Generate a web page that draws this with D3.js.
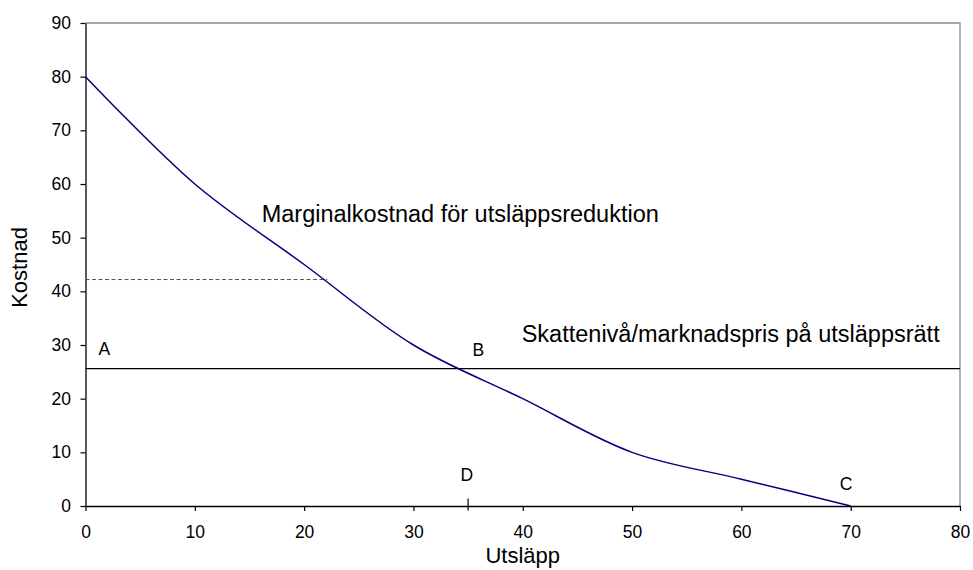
<!DOCTYPE html>
<html>
<head>
<meta charset="utf-8">
<script src="https://cdn.jsdelivr.net/npm/d3@7"></script>
<style>
  html, body { margin: 0; padding: 0; background: #fff; }
  svg { display: block; font-family: "Liberation Sans", Arial, sans-serif; }
</style>
</head>
<body>
<svg id="chart" width="973" height="570"></svg>
<script>
// ---- data ----
const emissions = [0, 10, 20, 30, 40, 50, 60, 70];
const marginalCost = [80, 60, 45, 30, 20, 10, 5, 0];
const taxLevel = 25.6;
const dashedLevel = 42.2;
const dashedEndX = 22.1;
const markD = 35;
const xTicks = [0, 10, 20, 30, 40, 50, 60, 70, 80];
const yTicks = [0, 10, 20, 30, 40, 50, 60, 70, 80, 90];
const pointLabels = [
  { name: "A", x: 1.2, y: 28.1 },
  { name: "B", x: 35.4, y: 27.9 },
  { name: "C", x: 69.0, y: 3.0 },
  { name: "D", x: 34.3, y: 4.6 }
];
const curveLabel = "Marginalkostnad för utsläppsreduktion";
const lineLabel = "Skattenivå/marknadspris på utsläppsrätt";
const xTitle = "Utsläpp";
const yTitle = "Kostnad";

// ---- layout ----
const svg = d3.select("#chart");
const mLeft = 85.5, mRight = 960, mTop = 23, mBottom = 506;
const x = d3.scaleLinear().domain([0, 80]).range([mLeft, mRight]);
const y = d3.scaleLinear().domain([0, 90]).range([mBottom, mTop]);

// plot frame (top & right, gray)
svg.append("path")
  .attr("d", `M${x(0)},${y(90)}H${x(80)}V${y(0)}`)
  .attr("fill", "none").attr("stroke", "#8c8c8c").attr("stroke-width", 1.3);

// axes
const xAxis = svg.append("g").attr("transform", `translate(0,${y(0)})`)
  .call(d3.axisBottom(x).tickValues(xTicks).tickSize(5).tickPadding(14.6).tickSizeOuter(0));
const yAxis = svg.append("g").attr("transform", `translate(${x(0)},0)`)
  .call(d3.axisLeft(y).tickValues(yTicks).tickSize(5).tickPadding(9.5).tickSizeOuter(0));
[xAxis, yAxis].forEach(g => {
  g.selectAll("path.domain").attr("stroke", "#000").attr("stroke-width", 1.3);
  g.selectAll(".tick line").attr("stroke", "#000").attr("stroke-width", 1.2);
  g.selectAll(".tick text").attr("fill", "#000")
    .style("font-family", '"Liberation Sans", Arial, sans-serif').style("font-size", "17.5px");
});

// dashed reference line
svg.append("line")
  .attr("x1", x(0)).attr("x2", x(dashedEndX))
  .attr("y1", y(dashedLevel)).attr("y2", y(dashedLevel))
  .attr("stroke", "#555").attr("stroke-width", 1).attr("stroke-dasharray", "4,2.5");

// tax level line
svg.append("line")
  .attr("x1", x(0)).attr("x2", x(80))
  .attr("y1", y(taxLevel)).attr("y2", y(taxLevel))
  .attr("stroke", "#000").attr("stroke-width", 1.2);

// D marker tick
svg.append("line")
  .attr("x1", x(markD)).attr("x2", x(markD))
  .attr("y1", y(0) - 7.5).attr("y2", y(0) + 4.5)
  .attr("stroke", "#000").attr("stroke-width", 1.2);

// marginal cost curve
const line = d3.line()
  .x((d, i) => x(emissions[i]))
  .y(d => y(d))
  .curve(d3.curveCatmullRom.alpha(0.5));
svg.append("path")
  .datum(marginalCost)
  .attr("d", line)
  .attr("fill", "none").attr("stroke", "#000080").attr("stroke-width", 1.5);

// point labels
svg.selectAll("text.pt").data(pointLabels).join("text")
  .attr("class", "pt")
  .attr("x", d => x(d.x)).attr("y", d => y(d.y))
  .attr("font-size", "17.5px").attr("fill", "#000")
  .text(d => d.name);

// annotations
svg.append("text").attr("x", 261.7).attr("y", 222.3)
  .attr("font-size", "23.5px").attr("fill", "#000").text(curveLabel);
svg.append("text").attr("x", 521.7).attr("y", 341.7)
  .attr("font-size", "23.5px").attr("fill", "#000").text(lineLabel);

// axis titles
svg.append("text").attr("x", (mLeft + mRight) / 2).attr("y", 563)
  .attr("text-anchor", "middle").attr("font-size", "22px").attr("fill", "#000").text(xTitle);
svg.append("text")
  .attr("transform", `translate(27,${(mTop + mBottom) / 2 + 3}) rotate(-90)`)
  .attr("text-anchor", "middle").attr("font-size", "22px").attr("fill", "#000").text(yTitle);
</script>
</body>
</html>
